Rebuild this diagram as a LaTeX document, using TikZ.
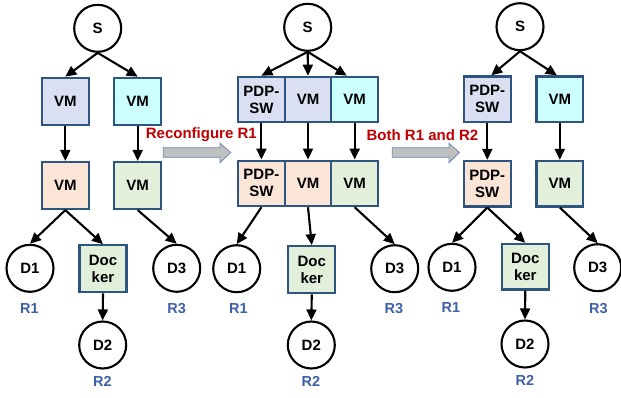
\documentclass[tikz,border=0pt]{standalone}
\usepackage{fontspec}
\setmainfont{Liberation Sans}
\usetikzlibrary{arrows.meta}
\definecolor{lav}{RGB}{218,224,242}
\definecolor{cyanbox}{RGB}{204,255,255}
\definecolor{peach}{RGB}{251,229,214}
\definecolor{greenbox}{RGB}{226,239,218}
\definecolor{bord}{RGB}{46,84,128}
\definecolor{lblue}{RGB}{61,96,168}
\definecolor{redtxt}{RGB}{192,0,0}
\definecolor{blockfill}{RGB}{192,192,192}
\definecolor{blockedge}{RGB}{110,135,180}
\tikzset{
  every node/.style={font=\bfseries\fontsize{15}{17}\selectfont},
  dev/.style={circle, draw=black, fill=white, line width=2.1pt, minimum size=47pt, inner sep=0pt},
  vbox/.style={rectangle, draw=bord, line width=2.2pt, minimum width=47pt, minimum height=47pt, inner sep=0pt, align=center},
  cell/.style={rectangle, draw=bord, line width=2.2pt, minimum width=46.7pt, minimum height=45.5pt, inner sep=0pt, align=center},
  rlab/.style={text=lblue, font=\bfseries\fontsize{14.5}{16}\selectfont},
  steplab/.style={text=redtxt, font=\bfseries\fontsize{15}{17}\selectfont},
  conn/.style={draw=black, line width=2.1pt, -{Triangle[length=11pt,width=10pt]}},
  blockarrow/.style={fill=blockfill, draw=blockedge, line width=0.8pt},
}
\begin{document}
\begin{tikzpicture}[x=1pt, y=-1pt]
\useasboundingbox (0,0) rectangle (621,397);

% ---------- first configuration ----------
\node[dev] (s1) at (97.7,28.3) {S};
\node[vbox, fill=lav] (a1) at (65.3,101.3) {VM};
\node[vbox, fill=cyanbox] (b1) at (137.7,101.3) {VM};
\node[vbox, fill=peach] (c1) at (65.3,185.5) {VM};
\node[vbox, fill=greenbox] (e1) at (137.7,185.5) {VM};
\node[dev] (d11) at (30,268.3) {D1};
\node[vbox, fill=greenbox] (k1) at (103,268.8) {Doc\\ker};
\node[dev] (d31) at (176.7,268.3) {D3};
\node[dev] (d21) at (102.7,345) {D2};
\node[rlab] (r11) at (29.3,308.3) {R1};
\node[rlab] (r21) at (102.3,381) {R2};
\node[rlab] (r31) at (176.7,308.3) {R3};

\draw[conn] (s1.south) -- (a1.north);
\draw[conn] (s1.south) -- (b1.north);
\draw[conn] (a1) -- (c1);
\draw[conn] (b1) -- (e1);
\draw[conn] (c1.south) -- (d11.north);
\draw[conn] (c1.south) -- (k1.north);
\draw[conn] (e1.south) -- (d31.north);
\draw[conn] (k1.south) -- (d21.north);

% ---------- second configuration ----------
\node[dev] (s2) at (307.7,27.3) {S};
\node[cell, fill=lav] (t21) at (261.4,99.5) {PDP-\\SW};
\node[cell, fill=lav] (t22) at (308.0,99.5) {VM};
\node[cell, fill=cyanbox] (t23) at (354.7,99.5) {VM};
\node[cell, fill=peach] (u21) at (261.4,183.4) {PDP-\\SW};
\node[cell, fill=peach] (u22) at (308.0,183.4) {VM};
\node[cell, fill=greenbox] (u23) at (354.7,183.4) {VM};
\node[dev] (d12) at (236.7,268.7) {D1};
\node[vbox, fill=greenbox] (k2) at (311.8,269.7) {Doc\\ker};
\node[dev] (d32) at (394.7,268.7) {D3};
\node[dev] (d22) at (311.3,345) {D2};
\node[rlab] (r12) at (238.3,308.3) {R1};
\node[rlab] (r22) at (311,381) {R2};
\node[rlab] (r32) at (394,308.3) {R3};

\draw[conn] (s2.south) -- (t21.north);
\draw[conn] (s2.south) -- (t22.north);
\draw[conn] (s2.south) -- ([xshift=-8pt]t23.north);
\draw[conn] (t21) -- (u21);
\draw[conn] (t22) -- (u22);
\draw[conn] (t23) -- (u23);
\draw[conn] (u21.south) -- (d12.north);
\draw[conn] (u22.south) -- (k2.north);
\draw[conn] (u23.south) -- (d32.north);
\draw[conn] (k2.south) -- (d22.north);

% ---------- third configuration ----------
\node[dev] (s3) at (520,26.7) {S};
\node[cell, fill=lav] (p3) at (487.3,99.2) {PDP-\\SW};
\node[cell, fill=cyanbox] (v3) at (559.8,99.2) {VM};
\node[cell, fill=peach] (q3) at (487.3,183.7) {PDP-\\SW};
\node[cell, fill=greenbox] (w3) at (559.8,183.7) {VM};
\node[dev] (d13) at (452,267.3) {D1};
\node[cell, fill=greenbox] (k3) at (525.3,266.7) {Doc\\ker};
\node[dev] (d33) at (597.7,267.7) {D3};
\node[dev] (d23) at (525,344) {D2};
\node[rlab] (r13) at (451,307.3) {R1};
\node[rlab] (r23) at (525,380) {R2};
\node[rlab] (r33) at (598.3,309) {R3};

\draw[conn] (s3.south) -- ([xshift=4pt]p3.north);
\draw[conn] (s3.south) -- ([xshift=-3pt]v3.north);
\draw[conn] (p3) -- (q3);
\draw[conn] (v3) -- (w3);
\draw[conn] (q3.south) -- (d13.north);
\draw[conn] (q3.south) -- (k3.north);
\draw[conn] (w3.south) -- (d33.north);
\draw[conn] (k3.south) -- (d23.north);

% ---------- transition arrows ----------
\draw[blockarrow] (163.3,147.7) -- (220,147.7) -- (220,143.3) -- (230.7,152.5)
  -- (220,162.7) -- (220,157.3) -- (163.3,157.3) -- cycle;
\node[steplab] (step1) at (201.3,135) {Reconfigure R1};
\draw[blockarrow] (392.3,147.7) -- (449,147.7) -- (449,143.3) -- (459.3,152.5)
  -- (449,162.7) -- (449,157.3) -- (392.3,157.3) -- cycle;
\node[steplab] (step2) at (422.5,135) {Both R1 and R2};
\end{tikzpicture}
\end{document}
